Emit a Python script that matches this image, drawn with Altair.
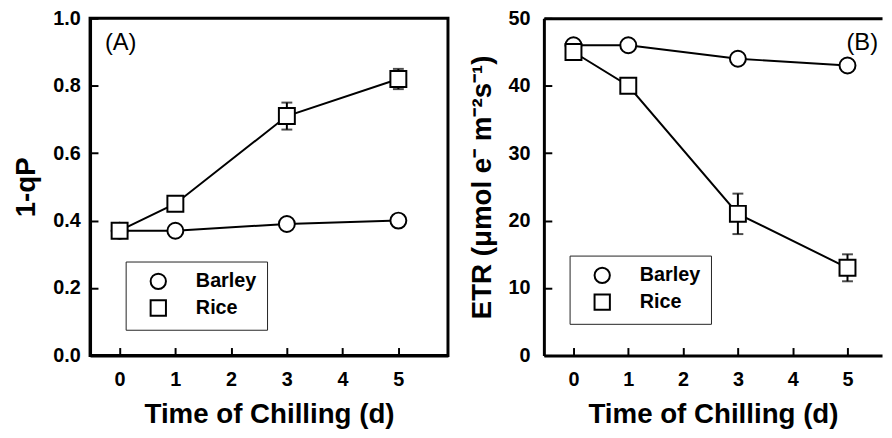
import altair as alt
import pandas as pd

days = [0, 1, 3, 5]
series_names = ["Barley", "Rice"]
qp_barley = [0.37, 0.37, 0.39, 0.40]
qp_rice = [0.37, 0.45, 0.71, 0.82]
qp_rice_err = [0.0, 0.0, 0.04, 0.03]
etr_barley = [46, 46, 44, 43]
etr_rice = [45, 40, 21, 13]
etr_rice_err = [0, 0, 3, 2]
x_ticks = [0, 1, 2, 3, 4, 5]
qp_ticks = [0.0, 0.2, 0.4, 0.6, 0.8, 1.0]
etr_ticks = [0, 10, 20, 30, 40, 50]

FONT = "Liberation Sans"


def make_df(barley, rice, rice_err):
    rows = []
    for d, v in zip(days, barley):
        rows.append(dict(day=d, value=v, series="Barley", err=0))
    for d, v, e in zip(days, rice, rice_err):
        rows.append(dict(day=d, value=v, series="Rice", err=e))
    df = pd.DataFrame(rows)
    df["low"] = df["value"] - df["err"]
    df["high"] = df["value"] + df["err"]
    return df


def panel(df, ytitle, ydomain, yticks, yfmt, xdomain, width, label, label_x,
          legend_x, legend_y, ylab_pad, ytitle_pad, top_border, view_stroke):
    xs = alt.Scale(domain=xdomain, nice=False, zero=False)
    ys = alt.Scale(domain=ydomain, nice=False, zero=False)
    x_main = alt.X("day:Q", scale=xs, axis=alt.Axis(
        orient="bottom", values=x_ticks, format="d", ticks=False, labelPadding=14,
        title="Time of Chilling (d)", titlePadding=12, domainWidth=3))
    y_main = alt.Y("value:Q", scale=ys, axis=alt.Axis(
        orient="left", values=yticks, format=yfmt, ticks=False, labelPadding=ylab_pad,
        title=ytitle, titlePadding=ytitle_pad, domainWidth=3))
    x_tick = alt.X("day:Q", scale=xs, axis=alt.Axis(
        orient="bottom", values=x_ticks, labels=False, domain=False, ticks=True,
        tickSize=8, tickWidth=2, offset=-8, title=None))
    y_tick = alt.Y("value:Q", scale=ys, axis=alt.Axis(
        orient="left", values=yticks, labels=False, domain=False, ticks=True,
        tickSize=8, tickWidth=2, offset=-8, title=None))
    if top_border:
        x_err = alt.X("day:Q", scale=xs, axis=alt.Axis(
            orient="top", labels=False, ticks=False, domain=True,
            domainWidth=3, title=None))
    else:
        x_err = alt.X("day:Q", scale=xs, axis=None)

    base = alt.Chart(df)
    lines = base.mark_line(color="black", strokeWidth=2).encode(
        x=x_main, y=y_main, detail="series:N")
    errdf = df[df["err"] > 0]
    err_rule = alt.Chart(errdf).mark_rule(color="black", strokeWidth=2).encode(
        x=x_err, y=alt.Y("low:Q", scale=ys, axis=None), y2="high:Q")
    cap_lo = alt.Chart(errdf).mark_tick(color="black", thickness=2, size=11,
                                         orient="horizontal").encode(
        x=alt.X("day:Q", scale=xs, axis=None),
        y=alt.Y("low:Q", scale=ys, axis=None))
    cap_hi = alt.Chart(errdf).mark_tick(color="black", thickness=2, size=11,
                                         orient="horizontal").encode(
        x=alt.X("day:Q", scale=xs, axis=None),
        y=alt.Y("high:Q", scale=ys, axis=None))
    points = base.mark_point(filled=False, fill="white", fillOpacity=1,
                             stroke="black", strokeWidth=2, size=260,
                             opacity=1).encode(
        x=x_tick, y=y_tick,
        shape=alt.Shape("series:N", sort=series_names,
                        scale=alt.Scale(domain=series_names, range=["circle", "square"]),
                        legend=alt.Legend(
                            orient="none", legendX=legend_x, legendY=legend_y,
                            title=None, labelFont=FONT, labelFontSize=20,
                            labelFontWeight="bold", labelColor="black",
                            padding=10, strokeColor="#222", fillColor="white",
                            symbolSize=240, symbolStrokeWidth=2,
                            symbolOffset=13, labelOffset=28, rowPadding=3)),
        order=alt.Order("series:N"))
    text = alt.Chart(pd.DataFrame({"t": [label]})).mark_text(
        font=FONT, fontSize=24, align="left", baseline="alphabetic",
        color="black").encode(x=alt.value(label_x), y=alt.value(32), text="t:N")
    return alt.layer(lines, err_rule, cap_lo, cap_hi, points, text).resolve_axis(
        x="independent", y="independent").properties(
        width=width, height=341,
        view=alt.ViewBackground(stroke=view_stroke, strokeWidth=3))


df_a = make_df(qp_barley, qp_rice, qp_rice_err)
df_b = make_df(etr_barley, etr_rice, etr_rice_err)

pa = panel(df_a, "1-qP", [0, 1], qp_ticks, ".1f", [-0.53, 5.89], 362, "(A)", 15,
           36, 246, 10, 12, False, "black")
pb = panel(df_b, "ETR (\u03bcmol e\u207b m\u207b\u00b2s\u207b\u00b9)", [0, 50], etr_ticks, "d",
           [-0.54, 5.63], 342, "(B)", 306, 26, 240, 14, 12, True, "transparent")

chart = alt.hconcat(pa, pb, spacing=17).resolve_scale(
    shape="independent").resolve_legend(shape="independent").properties(
    padding={"left": 3, "top": -4, "right": 0, "bottom": 0},
    background="white"
).configure_axis(
    labelFont=FONT, labelFontSize=20, labelFontWeight="bold", labelColor="black",
    titleFont=FONT, titleFontSize=28, titleFontWeight="bold", titleColor="black",
    domainColor="black", tickColor="black", grid=False
)

chart.save("out.html", embed_options={"renderer": "svg", "actions": False})
